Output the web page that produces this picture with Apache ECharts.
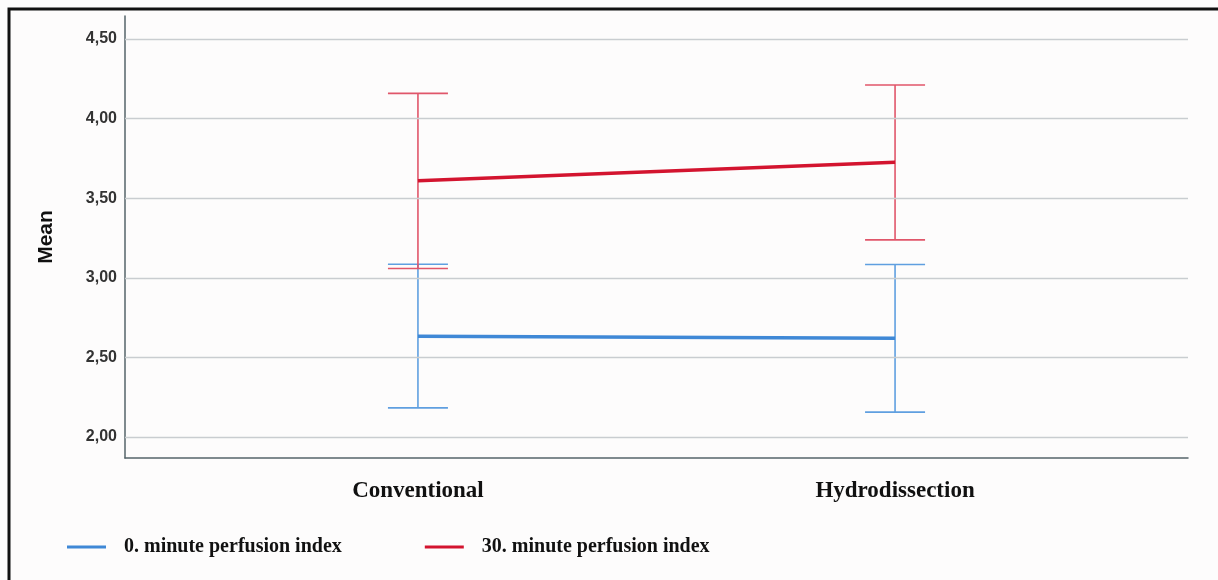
<!DOCTYPE html>
<html>
<head>
<meta charset="UTF-8">
<script type="text/javascript" src="https://cdn.jsdelivr.net/npm/echarts@6/dist/echarts.min.js"></script>
<style>
  html, body { margin: 0; padding: 0; background: #fdfcfc; }
  #chartmain { width: 1218px; height: 580px; }
</style>
</head>
<body>
<div id="chartmain"></div>
<script type="text/javascript">
  // groups on the x axis (positions 0 and 1)
  var groups = ['Conventional', 'Hydrodissection'];
  var seriesNames = ['0. minute perfusion index', '30. minute perfusion index'];
  // means
  var mean0 = [2.633, 2.620];
  var mean30 = [3.610, 3.725];
  // error bar ends
  var low0 = [2.183, 2.156];
  var high0 = [3.085, 3.083];
  var low30 = [3.058, 3.238];
  var high30 = [4.158, 4.211];
  var yTicks = [2.0, 2.5, 3.0, 3.5, 4.0, 4.5];

  var blue = '#3f88d6', blueBar = '#5f9fe0';
  var red = '#d3142f', redBar = '#e0566a';

  function errData(lo, hi) {
    var out = [];
    for (var i = 0; i < groups.length; i++) out.push([i, lo[i], hi[i]]);
    return out;
  }
  function meanData(m) {
    var out = [];
    for (var i = 0; i < groups.length; i++) out.push([i, m[i]]);
    return out;
  }
  function errRender(color) {
    return function (params, api) {
      var x = api.value(0);
      var pLo = api.coord([x, api.value(1)]);
      var pHi = api.coord([x, api.value(2)]);
      var hw = 30;
      var st = { stroke: color, lineWidth: 1.6 };
      return {
        type: 'group',
        children: [
          { type: 'line', shape: { x1: pLo[0], y1: pLo[1], x2: pHi[0], y2: pHi[1] }, style: st },
          { type: 'line', shape: { x1: pHi[0] - hw, y1: pHi[1], x2: pHi[0] + hw, y2: pHi[1] }, style: st },
          { type: 'line', shape: { x1: pLo[0] - hw, y1: pLo[1], x2: pLo[0] + hw, y2: pLo[1] }, style: st }
        ]
      };
    };
  }

  var option = {
    backgroundColor: '#fdfcfc',
    animation: false,
    grid: { left: 125, right: 30, top: 16, bottom: 122 },
    graphic: [
      { type: 'polyline', shape: { points: [[9, 580], [9, 9], [1218, 9]] },
        style: { stroke: '#111', lineWidth: 3, fill: null } }
    ],
    legend: {
      data: seriesNames,
      left: 62, top: 532,
      icon: 'rect', itemWidth: 39, itemHeight: 3, itemGap: 83,
      textStyle: { fontFamily: 'Liberation Serif', fontWeight: 'bold', fontSize: 20, color: '#111', padding: [0, 0, 0, 13] }
    },
    xAxis: {
      type: 'value', min: -0.614, max: 1.614,
      axisLine: { show: true, onZero: false, lineStyle: { color: '#55646a', width: 1.5 } },
      axisTick: { show: false },
      splitLine: { show: false },
      axisLabel: {
        customValues: [0, 1],
        formatter: function (v) { return groups[Math.round(v)]; },
        fontFamily: 'Liberation Serif', fontWeight: 'bold', fontSize: 23, color: '#111', margin: 22
      }
    },
    yAxis: {
      type: 'value', min: 1.868, max: 4.644,
      name: 'Mean', nameLocation: 'middle', nameRotate: 90, nameGap: 68,
      nameTextStyle: { fontFamily: 'Liberation Sans', fontWeight: 'bold', fontSize: 21, color: '#111' },
      axisLine: { show: true, onZero: false, lineStyle: { color: '#55646a', width: 1.5 } },
      axisTick: { show: false },
      splitLine: { show: false },
      axisLabel: {
        customValues: yTicks,
        formatter: function (v) { return v.toFixed(2).replace('.', ','); },
        fontFamily: 'Liberation Sans', fontWeight: 'bold', fontSize: 16, color: '#333', margin: 8
      }
    },
    series: [
      {
        name: 'grid', type: 'line', data: [], silent: true,
        markLine: {
          silent: true, symbol: 'none', label: { show: false },
          lineStyle: { color: '#c9cdd0', width: 1.3, type: 'solid' },
          data: yTicks.map(function (v) { return { yAxis: v }; })
        }
      },
      { name: 'err0', type: 'custom', renderItem: errRender(blueBar), data: errData(low0, high0), z: 3 },
      { name: 'err30', type: 'custom', renderItem: errRender(redBar), data: errData(low30, high30), z: 3 },
      { name: seriesNames[0], type: 'line', data: meanData(mean0), symbol: 'none', z: 4,
        lineStyle: { color: blue, width: 3.5 }, itemStyle: { color: blue } },
      { name: seriesNames[1], type: 'line', data: meanData(mean30), symbol: 'none', z: 4,
        lineStyle: { color: red, width: 3.5 }, itemStyle: { color: red } }
    ]
  };

  var myChart = echarts.init(document.getElementById('chartmain'));
  myChart.setOption(option);
</script>
</body>
</html>
